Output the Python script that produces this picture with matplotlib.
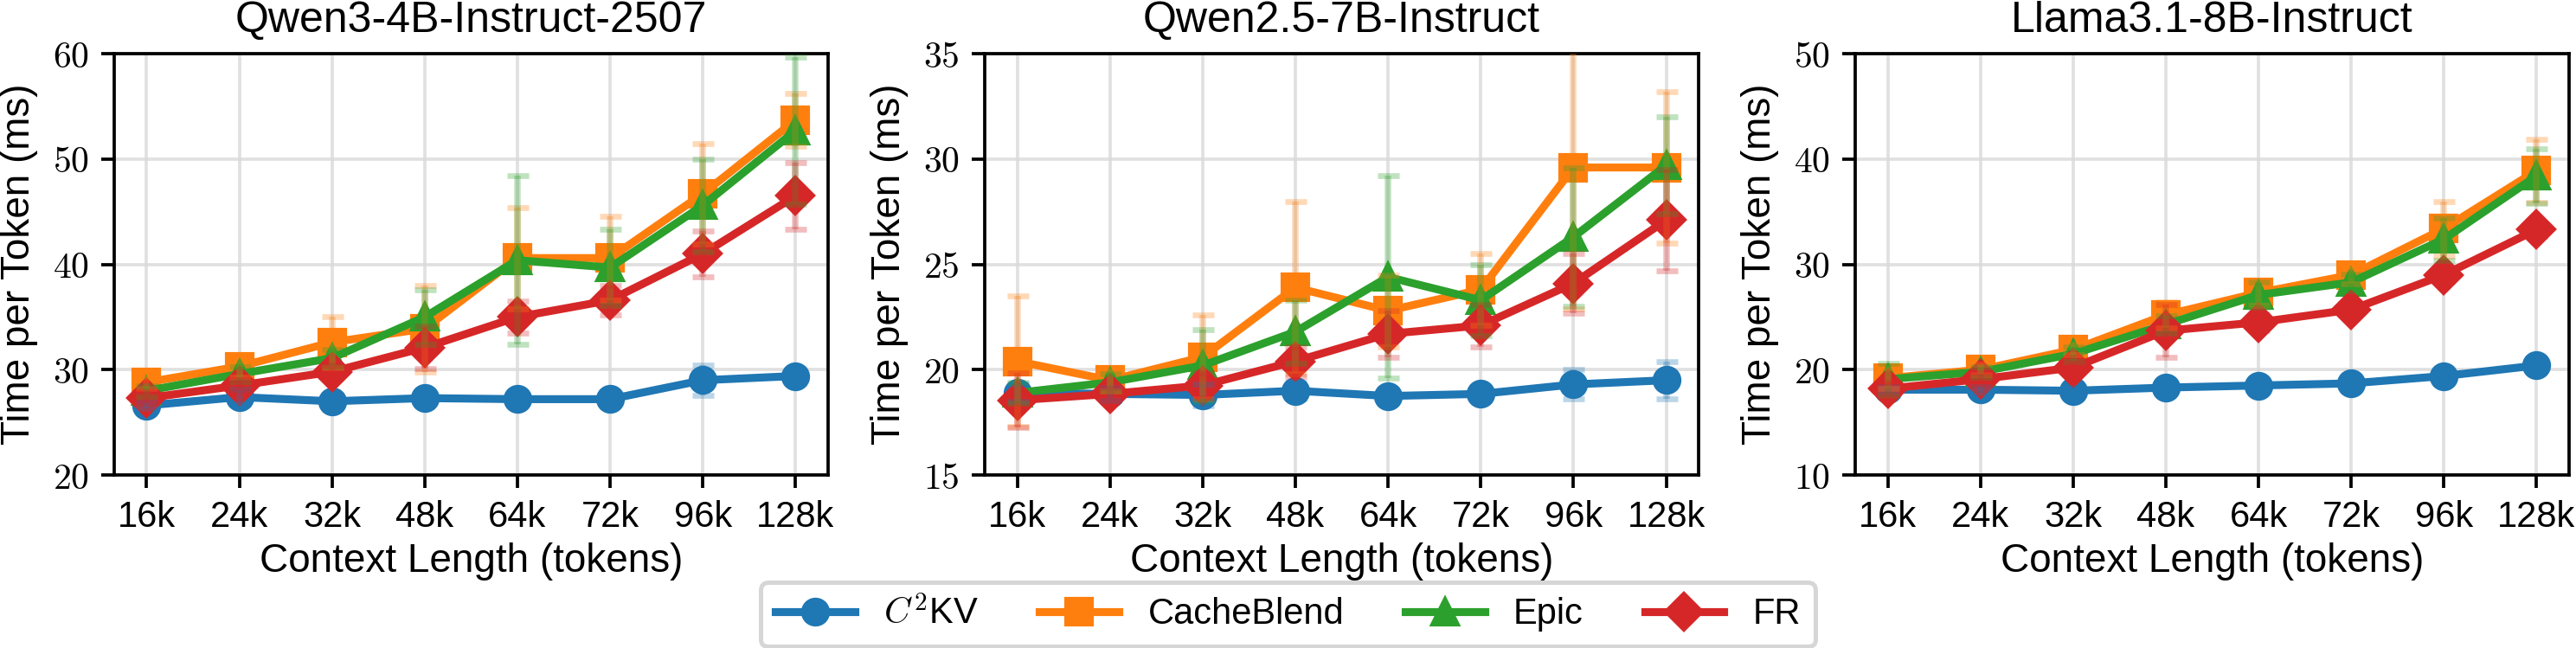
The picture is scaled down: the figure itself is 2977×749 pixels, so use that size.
import matplotlib.pyplot as plt
from matplotlib.ticker import FuncFormatter
import numpy as np

plt.rcParams['font.family'] = ['Liberation Sans', 'DejaVu Sans']
plt.rcParams['mathtext.fontset'] = 'cm'

contexts = ['16k', '24k', '32k', '48k', '64k', '72k', '96k', '128k']
models = ['Qwen3-4B-Instruct-2507', 'Qwen2.5-7B-Instruct', 'Llama3.1-8B-Instruct']
methods = ['$C^2$KV', 'CacheBlend', 'Epic', 'FR']

# Qwen3-4B-Instruct-2507 (mean, std)
q3_c2kv = [26.6, 27.4, 27.0, 27.3, 27.2, 27.2, 29.0, 29.4]
q3_c2kv_err = [0.3, 0.7, 0.3, 0.3, 0.3, 0.3, 1.4, 0.6]
q3_cb = [28.8, 30.3, 32.6, 33.9, 40.6, 40.6, 46.7, 53.7]
q3_cb_err = [0.6, 1.0, 2.4, 4.1, 4.8, 4.0, 4.8, 2.5]
q3_epic = [28.0, 29.6, 31.1, 35.0, 40.4, 39.7, 45.6, 52.7]
q3_epic_err = [0.5, 0.7, 0.8, 2.6, 8.0, 3.6, 4.4, 7.0]
q3_fr = [27.3, 28.5, 29.8, 32.1, 35.0, 36.6, 41.0, 46.5]
q3_fr_err = [0.5, 0.5, 0.6, 2.0, 1.5, 1.4, 2.2, 3.2]

# Qwen2.5-7B-Instruct
q25_c2kv = [18.9, 18.85, 18.8, 19.0, 18.75, 18.85, 19.3, 19.5]
q25_c2kv_err = [0.4, 0.3, 0.5, 0.4, 0.3, 0.3, 0.7, 0.9]
q25_cb = [20.4, 19.5, 20.6, 23.9, 22.8, 23.8, 29.6, 29.6]
q25_cb_err = [3.1, 0.5, 2.0, 4.1, 1.7, 1.7, 6.7, 3.6]
q25_epic = [18.9, 19.4, 20.2, 21.8, 24.4, 23.3, 26.3, 29.7]
q25_epic_err = [0.5, 0.4, 1.7, 1.5, 4.8, 1.7, 3.3, 2.3]
q25_fr = [18.55, 18.85, 19.25, 20.4, 21.7, 22.1, 24.1, 27.1]
q25_fr_err = [1.3, 0.3, 0.6, 0.7, 1.1, 1.0, 1.4, 2.4]

# Llama3.1-8B-Instruct
ll_c2kv = [18.1, 18.1, 18.0, 18.3, 18.5, 18.7, 19.4, 20.4]
ll_c2kv_err = [0.3, 0.3, 0.3, 0.4, 0.5, 0.5, 0.4, 0.4]
ll_cb = [19.2, 20.0, 21.9, 25.2, 27.3, 29.0, 33.4, 38.9]
ll_cb_err = [1.0, 0.5, 0.5, 1.2, 1.2, 0.8, 2.6, 3.0]
ll_epic = [19.1, 19.8, 21.5, 24.3, 27.1, 28.3, 32.4, 38.4]
ll_epic_err = [1.5, 0.5, 0.7, 0.8, 1.2, 0.8, 2.0, 2.6]
ll_fr = [18.2, 19.1, 20.2, 23.7, 24.5, 25.7, 29.0, 33.3]
ll_fr_err = [0.6, 0.5, 0.5, 2.5, 0.8, 0.6, 0.6, 0.6]

panels = [
    ([q3_c2kv, q3_cb, q3_epic, q3_fr], [q3_c2kv_err, q3_cb_err, q3_epic_err, q3_fr_err], (20, 60), 10),
    ([q25_c2kv, q25_cb, q25_epic, q25_fr], [q25_c2kv_err, q25_cb_err, q25_epic_err, q25_fr_err], (15, 35), 5),
    ([ll_c2kv, ll_cb, ll_epic, ll_fr], [ll_c2kv_err, ll_cb_err, ll_epic_err, ll_fr_err], (10, 50), 10),
]

colors = ['#1f77b4', '#ff7f0e', '#2ca02c', '#d62728']
markers = ['o', 's', '^', 'D']

fig = plt.figure(figsize=(2977 / 300, 749 / 300), dpi=300)
lefts = [0.0443, 0.3823, 0.7202]
x = np.arange(len(contexts))

handles = []
for k, (series, errs, ylim, step) in enumerate(panels):
    ax = fig.add_axes([lefts[k], 0.267, 0.2771, 0.650])
    for i in range(4):
        ln, = ax.plot(x, series[i], color=colors[i], marker=markers[i], lw=2.2, ms=7, zorder=2)
        ax.errorbar(x, series[i], yerr=errs[i], fmt='none', ecolor=colors[i], alpha=0.3,
                    elinewidth=1.8, capsize=3.0, capthick=1.6, zorder=3)
        if k == 0:
            handles.append(ln)
    ax.set_xticks(x)
    ax.set_xticklabels(contexts)
    ax.set_xlim(-0.35, 7.35)
    ax.set_ylim(*ylim)
    ax.set_yticks(np.arange(ylim[0], ylim[1] + 0.1, step))
    ax.yaxis.set_major_formatter(FuncFormatter(lambda v, p: r'$\mathrm{%d}$' % v))
    ax.grid(True, color='#d9d9d9', lw=0.9, alpha=0.8)
    ax.set_axisbelow(True)
    for s in ax.spines.values():
        s.set_linewidth(0.9)
    ax.tick_params(axis='both', labelsize=10, length=3.5, width=0.9)
    ax.set_title(models[k], fontsize=12)
    ax.set_xlabel('Context Length (tokens)', fontsize=11, labelpad=2)
    ax.set_ylabel('Time per Token (ms)', fontsize=11)

leg = fig.legend(handles, methods, loc='center', bbox_to_anchor=(0.5, 0.052), ncol=4,
                 fontsize=10, frameon=True, fancybox=True, handlelength=2.2, columnspacing=1.7)
leg.get_frame().set_edgecolor('#cccccc')
leg.get_frame().set_linewidth(1.2)

fig.savefig('out.png', dpi=300)
